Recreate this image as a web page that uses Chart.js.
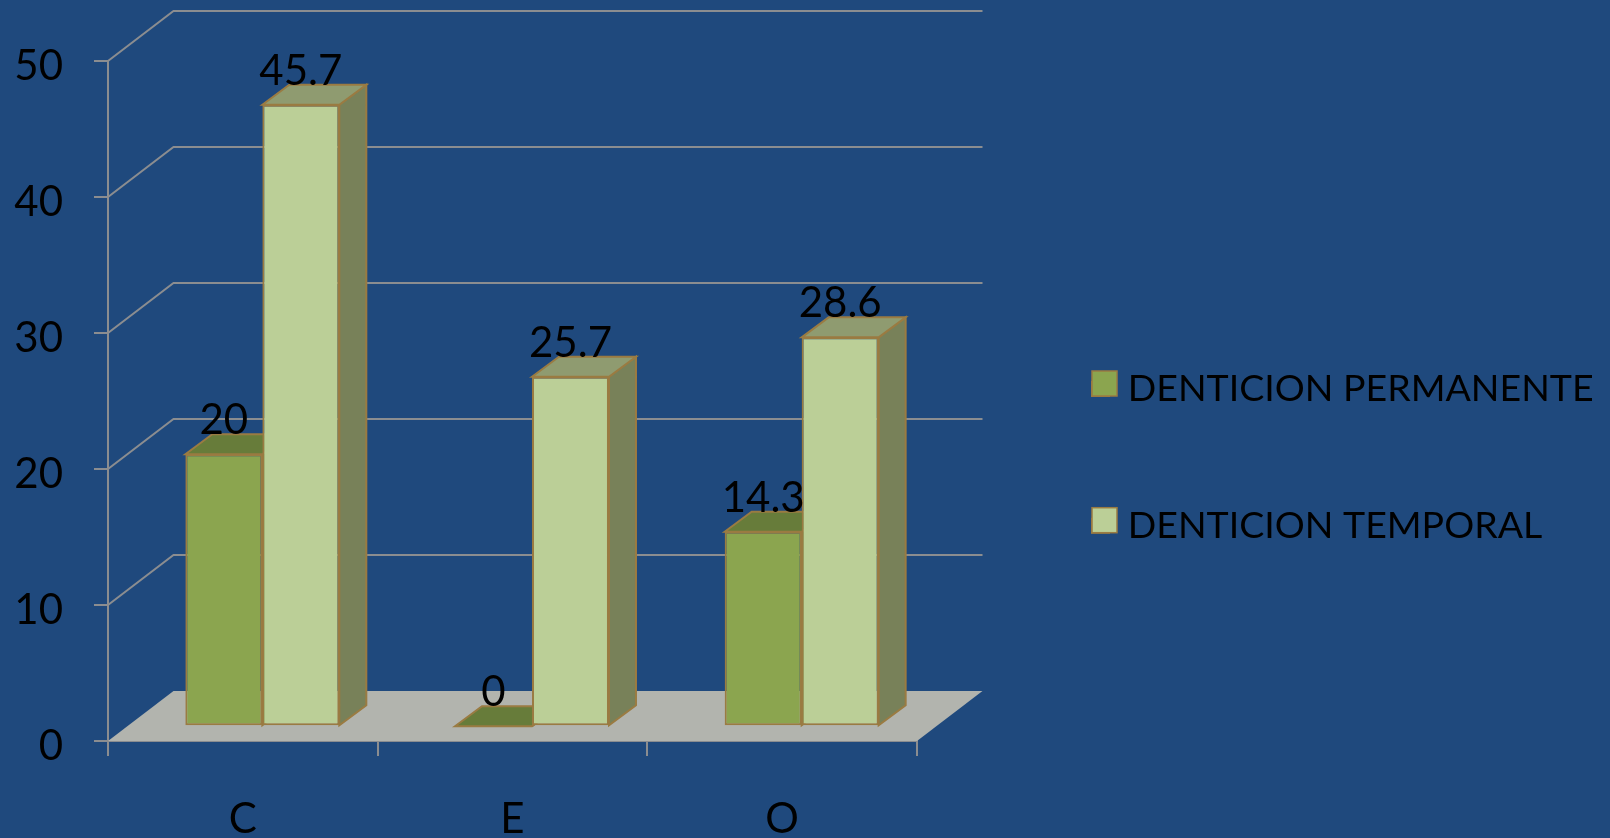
<!DOCTYPE html>
<html>
<head>
<meta charset="utf-8">
<style>
html,body{margin:0;padding:0;background:#1f497d;overflow:hidden}
canvas{display:block}
</style>
<script src="https://cdn.jsdelivr.net/npm/chart.js@4"></script>
</head>
<body>
<canvas id="c" width="1610" height="838"></canvas>
<script>
const categories = ['C', 'E', 'O'];
const permanente = [20, 0, 14.3];
const temporal = [45.7, 25.7, 28.6];
const seriesNames = ['DENTICION PERMANENTE', 'DENTICION TEMPORAL'];

const FONT = 'Lato';
const FONT_SIZE = 42;
const LEGEND_FONT_SIZE = 37.5;
const GRID = '#8b8d90';
const EDGE = '#9a7b42';
const FRONT = ['#8ba54f', '#bbcf97'];
const TOP = ['#677c3a', '#8f9b70'];
const SIDE = ['#677c3a', '#788159'];
const WALL = {dx: 65.5, dy: 50};      // depth of the walls/floor
const BAR_SHIFT = {dx: 19.5, dy: -14.7}; // bars stand in from the front edge
const BAR_DEPTH = {dx: 27, dy: 20};
const LEGEND = {x: 1092, y: 371, size: 25, step: 136.7, pad: 99.2};

function poly(ctx, pts, fill, stroke) {
  ctx.beginPath();
  pts.forEach((p, i) => i ? ctx.lineTo(p[0], p[1]) : ctx.moveTo(p[0], p[1]));
  ctx.closePath();
  ctx.fillStyle = fill;
  ctx.fill();
  if (stroke) { ctx.strokeStyle = stroke; ctx.lineWidth = 2; ctx.stroke(); }
}

const scene = {
  id: 'scene',
  afterLayout(chart) {
    const lg = chart.legend;
    lg.left = LEGEND.x - LEGEND.pad;
    lg.top = 370.25 - LEGEND.pad;
    lg.right = 1610;
    lg.bottom = 838;
  },
  beforeDatasetsDraw(chart) {
    const {ctx, scales: {x, y}} = chart;
    const l = x.left, r = x.right, b = y.getPixelForValue(0);
    // floor
    poly(ctx, [[l, b], [r, b], [r + WALL.dx, b - WALL.dy], [l + WALL.dx, b - WALL.dy]], '#b2b4ae');
    // side wall and back wall lines
    ctx.strokeStyle = GRID;
    ctx.lineWidth = 2;
    y.ticks.forEach(t => {
      if (t.value === 0) return;
      const py = y.getPixelForValue(t.value);
      ctx.beginPath();
      ctx.moveTo(l, py);
      ctx.lineTo(l + WALL.dx, py - WALL.dy);
      ctx.lineTo(r + WALL.dx, py - WALL.dy);
      ctx.stroke();
    });
    // top and side faces of every bar, then the fronts are drawn natively over them
    ctx.save();
    ctx.translate(BAR_SHIFT.dx, BAR_SHIFT.dy);
    const d = BAR_DEPTH;
    chart.data.datasets.forEach((ds, i) => {
      chart.getDatasetMeta(i).data.forEach(bar => {
        const {x: cx, y: top, base, width} = bar.getProps(['x', 'y', 'base', 'width']);
        const x0 = cx - width / 2, x1 = cx + width / 2;
        poly(ctx, [[x1, top], [x1 + d.dx, top - d.dy], [x1 + d.dx, base - d.dy], [x1, base]], SIDE[i], EDGE);
        poly(ctx, [[x0, top], [x0 + d.dx, top - d.dy], [x1 + d.dx, top - d.dy], [x1, top]], TOP[i], EDGE);
      });
    });
    ctx.restore();
    ctx.save();
    ctx.translate(BAR_SHIFT.dx, BAR_SHIFT.dy);
  },
  afterDatasetsDraw(chart) {
    const {ctx} = chart;
    ctx.restore();
    ctx.save();
    ctx.fillStyle = '#000';
    ctx.font = FONT_SIZE + 'px ' + FONT;
    ctx.textAlign = 'center';
    ctx.textBaseline = 'middle';
    chart.data.datasets.forEach((ds, i) => {
      chart.getDatasetMeta(i).data.forEach((bar, j) => {
        ctx.fillText(String(ds.data[j]), bar.x + BAR_SHIFT.dx, bar.y + BAR_SHIFT.dy - 33.5);
      });
    });
    ctx.restore();
  },
  afterDraw(chart) {
    const {ctx} = chart;
    FRONT.forEach((c, i) => {
      ctx.fillStyle = c;
      ctx.strokeStyle = EDGE;
      ctx.lineWidth = 1.5;
      const yy = LEGEND.y + i * LEGEND.step;
      ctx.fillRect(LEGEND.x, yy, LEGEND.size, LEGEND.size);
      ctx.strokeRect(LEGEND.x, yy, LEGEND.size, LEGEND.size);
    });
  }
};

new Chart(document.getElementById('c'), {
  type: 'bar',
  data: {
    labels: categories,
    datasets: [
      {label: seriesNames[0], data: permanente, backgroundColor: FRONT[0]},
      {label: seriesNames[1], data: temporal, backgroundColor: FRONT[1]}
    ].map(d => Object.assign(d, {
      borderColor: EDGE, borderWidth: 2, borderSkipped: false,
      categoryPercentage: 0.571, barPercentage: 1, clip: false
    }))
  },
  options: {
    responsive: false,
    animation: false,
    devicePixelRatio: 1,
    layout: {padding: {left: 0, top: 61, right: 693, bottom: 0}},
    plugins: {
      tooltip: {enabled: false},
      legend: {
        position: 'chartArea',
        align: 'start',
        labels: {
          color: '#000',
          font: {family: FONT, size: LEGEND_FONT_SIZE},
          boxWidth: 17,
          boxHeight: 14,
          padding: LEGEND.pad
        }
      }
    },
    scales: {
      x: {
        afterFit(s) { s.height = 97; },
        grid: {drawOnChartArea: false, color: GRID, lineWidth: 2, tickLength: 15},
        border: {color: GRID, width: 2},
        ticks: {color: '#000', font: {family: FONT, size: FONT_SIZE}, padding: 38, maxRotation: 0, autoSkip: false}
      },
      y: {
        min: 0, max: 50,
        afterFit(s) { s.width = 108; },
        grid: {drawOnChartArea: false, color: GRID, lineWidth: 2, tickLength: 14},
        border: {color: GRID, width: 2},
        ticks: {color: '#000', font: {family: FONT, size: FONT_SIZE}, stepSize: 10, padding: 31, labelOffset: 5}
      }
    }
  },
  plugins: [scene]
});
</script>
</body>
</html>
